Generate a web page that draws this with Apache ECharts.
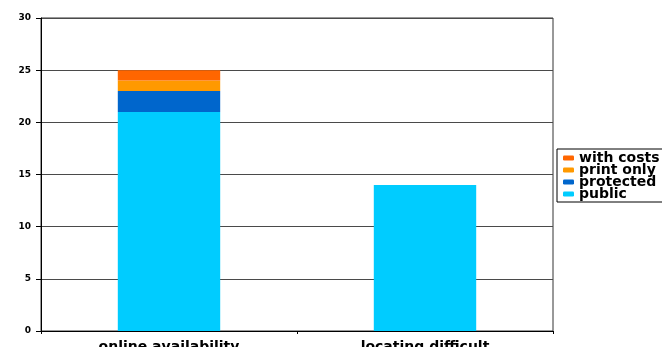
<!DOCTYPE html>
<html><head><meta charset="utf-8">
<script src="https://cdn.jsdelivr.net/npm/echarts@6/dist/echarts.min.js"></script>
<style>html,body{margin:0;padding:0;background:#fff}#c{width:662px;height:347px}</style>
</head><body><div id="c"></div>
<script>
const categories = ['online availability', 'locating difficult'];
const publicVals = [21, 14];
const protectedVals = [2, 0];
const printOnlyVals = [1, 0];
const withCostsVals = [1, 0];
const yTicks = [0, 5, 10, 15, 20, 25, 30];

const chart = echarts.init(document.getElementById('c'));
const font = '"DejaVu Sans", Verdana, sans-serif';
function s(name, data, color) {
  return { name, type: 'bar', stack: 'a', data, barWidth: '40%',
    itemStyle: { color }, emphasis: { disabled: true } };
}
chart.setOption({
  animation: false,
  grid: { left: 41, right: 109, top: 18, bottom: 16, outerBoundsMode: 'none', containLabel: false,
    show: true, borderColor: '#333', borderWidth: 1 },
  legend: {
    orient: 'vertical', left: 557, top: 149, padding: [2, 8, 1, 6],
    borderColor: '#000', borderWidth: 1, itemWidth: 11, itemHeight: 5, itemGap: -2,
    itemStyle: { borderWidth: 0 },
    textStyle: { fontFamily: font, fontWeight: 'bold', fontSize: 14, lineHeight: 12, color: '#000' },
    data: ['with costs', 'print only', 'protected', 'public']
  },
  xAxis: {
    type: 'category', data: categories,
    axisLine: { lineStyle: { color: '#000', width: 1 } },
    axisTick: { show: true, length: 3, lineStyle: { color: '#000' } },
    axisLabel: { fontFamily: font, fontWeight: 'bold', fontSize: 14, color: '#000', margin: 9 }
  },
  yAxis: {
    type: 'value', min: 0, max: 30, interval: 5,
    axisLine: { show: true, lineStyle: { color: '#000', width: 1 } },
    axisTick: { show: true, length: 5, lineStyle: { color: '#000' } },
    splitLine: { lineStyle: { color: '#4a4a4a', width: 1 } },
    axisLabel: { fontFamily: font, fontWeight: 'bold', fontSize: 9, color: '#000', margin: 10,
      formatter: v => yTicks.includes(v) ? String(v) : '' }
  },
  series: [
    s('public', publicVals, '#00CCFF'),
    s('protected', protectedVals, '#0066CC'),
    s('print only', printOnlyVals, '#FF9900'),
    s('with costs', withCostsVals, '#FF6600')
  ]
});
</script></body></html>
